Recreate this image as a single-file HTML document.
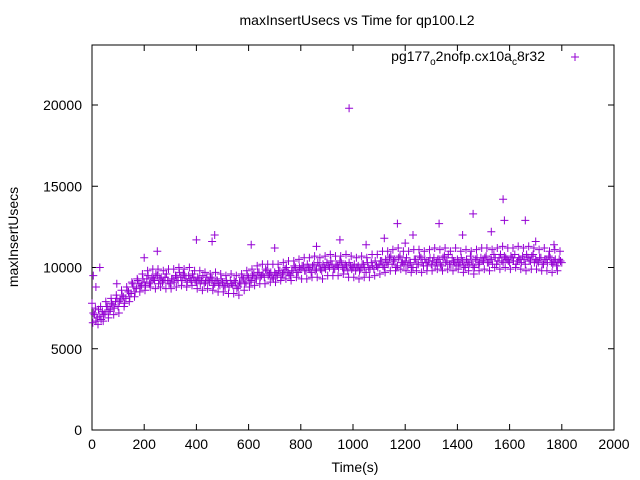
<!DOCTYPE html>
<html><head><meta charset="utf-8"><style>
body{margin:0;background:#fff;}
svg{display:block;font-family:"Liberation Sans",Arial,sans-serif;}
</style></head><body>
<svg id="chart" width="640" height="480">
<rect width="640" height="480" fill="#fff"/>
<text x="357" y="25" font-size="14" text-anchor="middle">maxInsertUsecs vs Time for qp100.L2</text>
<text x="355" y="472" font-size="14" text-anchor="middle">Time(s)</text>
<text transform="translate(18,237) rotate(-90)" font-size="14" text-anchor="middle">maxInsertUsecs</text>
<g id="axes"></g>
<g id="marks"></g>
<g>
<text x="545" y="61" font-size="14" text-anchor="end">pg177<tspan font-size="10" dy="4">o</tspan><tspan dy="-4">2nofp.cx10a</tspan><tspan font-size="10" dy="4">c</tspan><tspan dy="-4">8r32</tspan></text>
<path d="M571,57h8M575,53v8" stroke="#9400d3" stroke-width="1"/>
</g>
</svg>
<script>
const xTicks=[0,200,400,600,800,1000,1200,1400,1600,1800,2000];
const yTicks=[0,5000,10000,15000,20000];
const valuesA=[7800,7100,6900,7000,7300,7200,7600,7400,7700,7900,
7600,8000,8200,8100,8500,8400,8800,8700,9000,8900,
9100,9300,9000,9400,9200,9500,9300,9100,9400,9200,
9000,9300,9500,9200,9400,9600,9300,9500,9200,9400,
9100,9300,9200,9000,9400,9100,9300,9000,9200,8900,
9100,8800,9000,9200,8900,9100,8800,9000,9300,9100,
9400,9200,9600,9300,9700,9500,9400,9800,9600,9400,
9700,9500,9800,9600,9900,9700,9500,9800,10000,9700,
9900,10100,9800,10000,9700,10200,9900,10100,9800,10000,
10300,10000,10200,9900,10100,10400,10000,10200,9800,10100,
10000,9800,10100,9900,10200,9700,10000,10300,9900,10100,
10200,10400,10000,10300,10600,10200,10500,10100,10700,10300,
10400,10100,10300,10000,10500,10200,10600,10100,10300,10400,
10200,10600,10300,10500,10100,10700,10400,10200,10600,10300,
10500,10200,10400,10000,10300,10700,10100,10500,10200,10600,
10400,10700,10300,10500,10800,10200,10600,10400,10700,10500,
10300,10600,10800,10400,10500,10700,10200,10600,10400,10800,
10500,10300,10600,10200,10500,10700,10300,10400,10100,10500,10300];
const valuesB=[7200,6700,7400,6800,7100,7600,7300,7800,7500,8100,
7900,8300,7800,8600,8200,9000,8500,9200,8800,9300,
8900,9500,9100,9300,9600,9000,9400,9200,9600,9000,
9300,9100,9400,9700,9200,9500,9100,9300,9600,9200,
9400,9000,9500,9100,9200,9400,8900,9200,9000,9300,
8900,9200,8800,9000,9200,8700,9100,9400,9000,9500,
9100,9500,9300,9700,9400,9600,9900,9500,9700,9300,
9600,9800,9400,9700,10000,9600,9800,10100,9700,10000,
10100,9800,10200,9900,10100,9800,10300,9900,10200,9900,
10100,10400,9900,10200,10000,10300,9900,10100,10300,9900,
10200,10000,9800,10200,10000,10300,9900,10100,10400,10000,
10400,10100,10500,10200,10700,10400,10000,10600,10300,10200,
10600,10300,10000,10500,10200,10700,10300,10500,10100,10600,
10400,10100,10500,10200,10600,10300,10800,10200,10400,10100,
10300,10600,10100,10500,10200,10400,10000,10600,10300,10400,
10600,10300,10500,10200,10600,10400,10800,10300,10600,10400,
10700,10400,10200,10600,10300,10500,10800,10400,10700,10300,
10400,10600,10200,10500,10300,10600,10200,10500,10300,10400];
const valuesC=[6600,7500,6500,7600,6700,7900,6900,8100,7100,8300,
7200,8600,7600,8800,7900,9100,8200,9300,8500,9600,
8600,9800,8800,9900,8700,9900,8800,9800,8700,9900,
8700,9900,8800,10000,8900,9900,8800,10000,8900,9800,
8700,9800,8600,9700,8700,9600,8600,9700,8500,9600,
8500,9500,8400,9600,8400,9500,8300,9600,8600,9800,
8800,9900,8900,10100,9000,10200,9000,10200,9100,10200,
9100,10200,9200,10300,9300,10400,9200,10400,9400,10500,
9300,10600,9300,10600,9400,10700,9400,10600,9300,10700,
9500,10800,9500,10700,9500,10700,9600,10800,9400,10700,
9400,10600,9300,10700,9400,10600,9400,10800,9500,10800,
9600,11000,9700,11000,9800,11100,9800,11200,9900,11000,
9800,11000,9700,11100,9800,11100,9700,11000,9800,11100,
9800,11200,9900,11100,9800,11200,9900,11000,9800,11200,
9900,11000,9700,11100,9800,11000,9600,11100,9800,11200,
9900,11200,9800,11100,10000,11200,9900,11300,10000,11200,
9900,11200,10000,11300,9900,11200,9800,11300,9900,11200,
9900,11100,9800,11200,9800,11000,9700,11100,9800,11000];
const outlierTimes=[985,1575,1460,1580,1660,1170,1330,400,470,460,610,700,250,200,950,1050,1230,1420,5,15,30,95,1200,1530,1700,1770,860,1120];
const outlierValues=[19800,14200,13300,12900,12900,12700,12700,11700,12000,11600,11400,11200,11000,10600,11700,11400,12000,12000,9500,8800,10000,9000,11500,12200,11600,11400,11300,11800];
const X0=92,X1=614,Y0=430,YT=45,PXK=16.25;
const xs=v=>X0+v/2000*(X1-X0);
const ys=v=>Y0-v/1000*PXK;
const NS="http://www.w3.org/2000/svg";
const axes=document.getElementById('axes'),marks=document.getElementById('marks');
function el(t,a,p){const e=document.createElementNS(NS,t);for(const k in a)e.setAttribute(k,a[k]);p.appendChild(e);return e;}
const frame=el('rect',{x:X0,y:YT,width:X1-X0,height:Y0-YT,fill:'none',stroke:'#000','stroke-width':1},axes);


xTicks.forEach(v=>{const x=xs(v);
 const t=el('path',{d:`M${x},${Y0}v-6M${x},${YT}v6`,stroke:'#000'},axes);
 
 
 const l=el('text',{x:x,y:Y0+19,'font-size':14,'text-anchor':'middle'},axes);l.textContent=v;
 
 });
yTicks.forEach(v=>{const y=ys(v);
 const t=el('path',{d:`M${X0},${y}h6M${X1},${y}h-6`,stroke:'#000'},axes);
 
 
 const l=el('text',{x:X0-10,y:y+5,'font-size':14,'text-anchor':'end'},axes);l.textContent=v;
 
 });
let d='';
function add(t,v){const x=xs(t),y=ys(v);d+=`M${(x-4).toFixed(1)},${y.toFixed(1)}h8M${x.toFixed(1)},${(y-4).toFixed(1)}v8`;}
valuesA.forEach((v,i)=>add(i*10,v));
valuesB.forEach((v,i)=>add(i*10+5,v));
valuesC.forEach((v,i)=>add(i*10+3,v));
outlierTimes.forEach((t,i)=>add(t,outlierValues[i]));
const p=el('path',{d:d,stroke:'#9400d3','stroke-width':1,fill:'none'},marks);


</script>
</body></html>
